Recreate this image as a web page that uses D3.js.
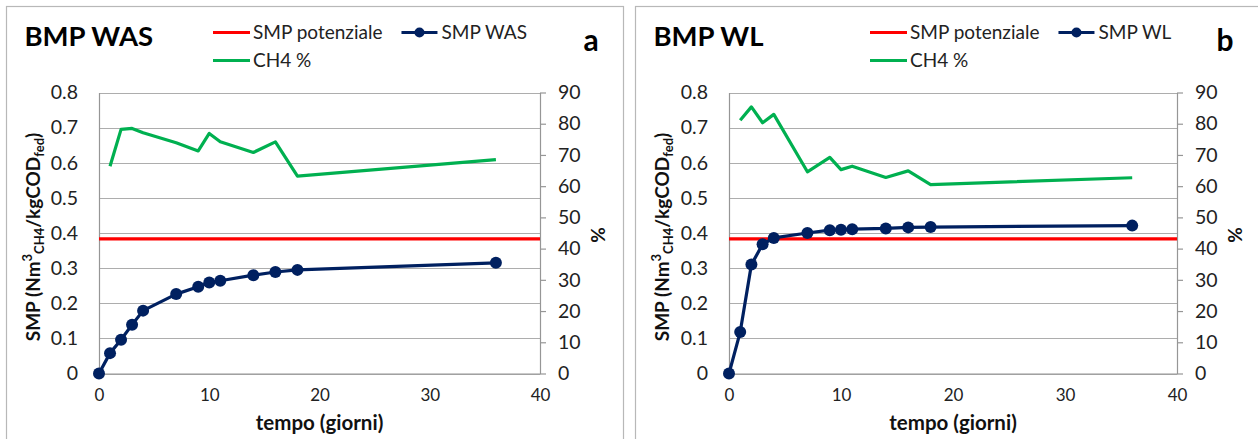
<!DOCTYPE html>
<html>
<head>
<meta charset="utf-8">
<script src="https://cdn.jsdelivr.net/npm/d3@7"></script>
<style>
  html, body { margin: 0; padding: 0; background: #fff; }
  svg { display: block; font-family: Lato, "Open Sans", sans-serif; }
</style>
</head>
<body>
<svg id="chart" width="1258" height="439"></svg>
<script>
// Sampling days (giorni)
const daysSMP = [0, 1, 2, 3, 4, 7, 9, 10, 11, 14, 16, 18, 36];
const daysCH4 = [1, 2, 3, 4, 7, 9, 10, 11, 14, 16, 18, 36];

// Specific methane production, Nm3 CH4 / kg COD fed
const smpWAS = [0, 0.058, 0.096, 0.139, 0.179, 0.226, 0.247, 0.259, 0.264, 0.280, 0.289, 0.295, 0.315];
const smpWL  = [0, 0.118, 0.310, 0.368, 0.386, 0.400, 0.408, 0.409, 0.411, 0.413, 0.416, 0.417, 0.421];

// Methane content of the biogas, %
const ch4WAS = [66.4, 78.2, 78.5, 77.1, 73.9, 71.3, 76.9, 74.2, 70.8, 74.2, 63.2, 68.5];
const ch4WL  = [81.1, 85.4, 80.3, 83.0, 64.6, 69.2, 65.3, 66.4, 62.8, 64.9, 60.5, 62.7];

// Theoretical (potential) SMP, drawn across the whole time axis
const smpPotenziale = 0.383;
const potenzialeDays = [0, 40];

// Axis ticks
const xTicks = [0, 10, 20, 30, 40];
const leftTicks = [0, 0.1, 0.2, 0.3, 0.4, 0.5, 0.6, 0.7, 0.8];
const rightTicks = [0, 10, 20, 30, 40, 50, 60, 70, 80, 90];

const RED = "#ff0000", NAVY = "#002060", GREEN = "#00b050";
const GRID = "#adadad", AXIS = "#969696", BORDER = "#b8b8b8";
const FONT = "Lato, sans-serif";

const svg = d3.select("#chart");

const panels = [
  { title: "BMP WAS", letter: "a", series: "SMP WAS", smp: smpWAS, ch4: ch4WAS,
    box: [6.5, 6.5, 617, 460], plot: [99, 540, 92.5, 373.5], legendX: 213, letterX: 591 },
  { title: "BMP WL", letter: "b", series: "SMP WL", smp: smpWL, ch4: ch4WL,
    box: [635.5, 6.5, 640, 460], plot: [729, 1177, 92.5, 373.5], legendX: 870, letterX: 1225 }
];

panels.forEach(p => drawPanel(p));

function drawPanel(p) {
  const [bx, by, bw, bh] = p.box;
  const [x0, x1, yTop, yBot] = p.plot;
  const g = svg.append("g");

  // chart frame
  g.append("rect").attr("x", bx).attr("y", by).attr("width", bw).attr("height", bh)
    .attr("fill", "#fff").attr("stroke", BORDER).attr("stroke-width", 1.2);

  const x = d3.scaleLinear().domain([0, 40]).range([x0, x1]);
  const yL = d3.scaleLinear().domain([0, 0.8]).range([yBot, yTop]);
  const yR = d3.scaleLinear().domain([0, 90]).range([yBot, yTop]);

  // horizontal gridlines
  g.append("g").selectAll("line").data(leftTicks).join("line")
    .attr("x1", x0).attr("x2", x1)
    .attr("y1", d => Math.round(yL(d)) + 0.5).attr("y2", d => Math.round(yL(d)) + 0.5)
    .attr("stroke", GRID).attr("stroke-width", 1.2);

  // left axis (labels only, no tick marks)
  const la = g.append("g").attr("transform", `translate(${x0},0)`)
    .call(d3.axisLeft(yL).tickValues(leftTicks).tickSize(0).tickPadding(21)
      .tickFormat(d => d === 0 ? "0" : d3.format(".1f")(d)));
  la.select(".domain").attr("stroke", AXIS).attr("stroke-width", 1.2);
  la.selectAll("text").attr("font-size", 19.5).attr("fill", "#222").attr("font-family", FONT);

  // right axis (outside ticks)
  const ra = g.append("g").attr("transform", `translate(${x1},0)`)
    .call(d3.axisRight(yR).tickValues(rightTicks).tickSize(6).tickPadding(12).tickSizeOuter(0));
  ra.select(".domain").attr("stroke", AXIS).attr("stroke-width", 1.2);
  ra.selectAll(".tick line").attr("stroke", AXIS).attr("stroke-width", 1.2);
  ra.selectAll("text").attr("font-size", 19.5).attr("fill", "#222").attr("font-family", FONT);

  // bottom axis
  const ba = g.append("g").attr("transform", `translate(0,${yBot})`)
    .call(d3.axisBottom(x).tickValues(xTicks).tickSize(0).tickPadding(15));
  ba.select(".domain").attr("stroke", AXIS).attr("stroke-width", 1.2);
  ba.selectAll("text").attr("font-size", 17).attr("fill", "#222").attr("font-family", FONT);

  // axis titles
  g.append("text").attr("x", (x0 + x1) / 2).attr("y", 430)
    .attr("text-anchor", "middle").attr("font-size", 20.5).attr("font-weight", "bold")
    .attr("fill", "#111").text("tempo (giorni)");

  g.append("text").attr("transform", `translate(${x1 + 65},${(yTop + yBot) / 2 + 2}) rotate(-90)`)
    .attr("text-anchor", "middle").attr("font-size", 19).attr("font-weight", "bold")
    .attr("fill", "#111").text("%");

  const yt = g.append("text")
    .attr("transform", `translate(${bx + 33},${(yTop + yBot) / 2 + 4}) rotate(-90)`)
    .attr("text-anchor", "middle").attr("font-size", 19).attr("font-weight", "bold").attr("fill", "#111");
  yt.append("tspan").text("SMP (Nm");
  yt.append("tspan").attr("font-size", 13).attr("dy", -8).text("3");
  yt.append("tspan").attr("font-size", 13).attr("dy", 12).text("CH4");
  yt.append("tspan").attr("dy", -4).text("/kgCOD");
  yt.append("tspan").attr("font-size", 13).attr("dy", 4).text("fed");
  yt.append("tspan").attr("dy", -4).text(")");

  // potential SMP reference line
  g.append("line")
    .attr("x1", x(potenzialeDays[0])).attr("x2", x(potenzialeDays[1]))
    .attr("y1", yL(smpPotenziale)).attr("y2", yL(smpPotenziale))
    .attr("stroke", RED).attr("stroke-width", 3.2);

  // CH4 % on the right axis
  g.append("path").datum(daysCH4.map((d, i) => [d, p.ch4[i]]))
    .attr("fill", "none").attr("stroke", GREEN).attr("stroke-width", 3.2)
    .attr("stroke-linejoin", "round")
    .attr("d", d3.line().x(d => x(d[0])).y(d => yR(d[1])));

  // SMP curve with markers
  const smpData = daysSMP.map((d, i) => [d, p.smp[i]]);
  g.append("path").datum(smpData)
    .attr("fill", "none").attr("stroke", NAVY).attr("stroke-width", 3.2)
    .attr("stroke-linejoin", "round")
    .attr("d", d3.line().x(d => x(d[0])).y(d => yL(d[1])));
  g.append("g").selectAll("circle").data(smpData).join("circle")
    .attr("cx", d => x(d[0])).attr("cy", d => yL(d[1])).attr("r", 6)
    .attr("fill", NAVY);

  // title and panel letter
  g.append("text").attr("x", bx + 18).attr("y", 46).attr("font-size", 27.5)
    .attr("font-weight", "bold").attr("fill", "#000").text(p.title);
  g.append("text").attr("x", p.letterX).attr("y", 51).attr("text-anchor", "middle")
    .attr("font-size", 30).attr("font-weight", "bold").attr("fill", "#000").text(p.letter);

  // legend
  const lx = p.legendX;
  const leg = g.append("g").attr("font-size", 19).attr("fill", "#222");
  leg.append("line").attr("x1", lx).attr("x2", lx + 37).attr("y1", 32.5).attr("y2", 32.5)
    .attr("stroke", RED).attr("stroke-width", 3.2);
  const t1 = leg.append("text").attr("x", lx + 40).attr("y", 39).text("SMP potenziale");
  const w1 = t1.node().getComputedTextLength();
  const sx = lx + 40 + w1 + 19;
  leg.append("line").attr("x1", sx).attr("x2", sx + 36).attr("y1", 32.5).attr("y2", 32.5)
    .attr("stroke", NAVY).attr("stroke-width", 3.2);
  leg.append("circle").attr("cx", sx + 18).attr("cy", 32.5).attr("r", 5).attr("fill", NAVY);
  leg.append("text").attr("x", sx + 40).attr("y", 39).text(p.series);
  leg.append("line").attr("x1", lx).attr("x2", lx + 37).attr("y1", 60.5).attr("y2", 60.5)
    .attr("stroke", GREEN).attr("stroke-width", 3.2);
  leg.append("text").attr("x", lx + 40).attr("y", 67).text("CH4 %");
}
</script>
</body>
</html>
